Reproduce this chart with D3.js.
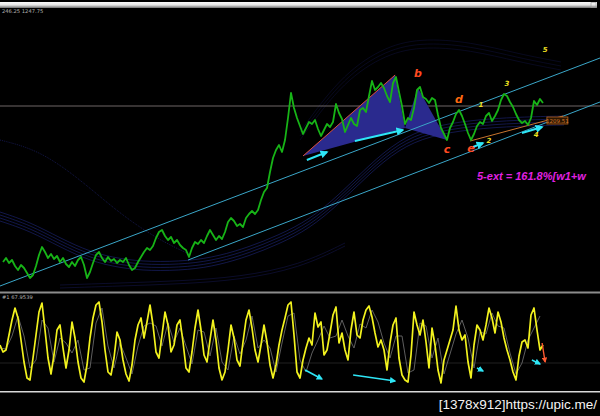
<!DOCTYPE html>
<html><head><meta charset="utf-8">
<script src="https://cdn.jsdelivr.net/npm/d3@7"></script>
<style>html,body{margin:0;padding:0;background:#000;overflow:hidden}svg{display:block}</style>
</head><body>
<script>
// ---------- DATA ----------
const headerText = "246.25 1247.75";
const oscHeaderText = "#1 67.9539";
const watermark = "[1378x912]https://upic.me/";
const extText = "5-ext = 161.8%[w1+w";
const priceTag = "1209.51";

// price closes, bar index starts at 1
const priceStart = 1;
const price = [
1134,1136,1133.5,1135,1132,1130,1132.5,1131,1128.5,1126,
1127.5,1132,1137.5,1141.5,1139,1136,1138,1135.5,1137,1134,
1136,1133,1131.5,1134,1132,1135,1136.5,1132.5,1126,1129,
1133.5,1137.5,1139,1136,1134,1136.5,1134.5,1135.5,1133.5,1135,
1134,1136,1132.5,1130,1131,1134,1136.5,1139,1141,1140,
1142,1146,1149,1150,1147,1145,1146.5,1143.5,1145,1142.5,
1141,1140,1136.5,1141,1144,1143,1145,1143.5,1147,1150,
1147.5,1145,1147,1145.5,1149,1154,1156,1154.5,1152,1153,
1151.5,1156,1158,1159.5,1158,1160,1165,1169,1171,1179,
1186,1190,1192.5,1189,1195,1206,1218.5,1211,1206,1202,
1198,1201,1204,1203,1205,1200.5,1197,1200,1203,1201.5,
1204,1213,1208.5,1205.5,1199,1202.5,1206,1203,1202,1210,
1211,1209,1217,1224.5,1220,1221.5,1223.5,1221,1217,1214,
1223.5,1226.5,1219,1212,1203,1206,1205,1211,1220,1221.5,
1216.5,1215.5,1213.5,1216,1215,1207.5,1201,1198,1195,1201,
1204,1208,1210,1207,1203,1198.5,1195,1198,1202,1204,
1203,1207,1208.5,1204.5,1207,1210,1215,1218,1217,1214,
1211.5,1208,1205,1203.5,1204.5,1202.5,1206,1214.5,1212.5,1215.5,
1213.5
];

// oscillator main line, bar index starts at 0
const osc = [
53,46,48,63,78,90,80,58,36,20,
18,40,63,86,95,68,40,24,43,68,
73,50,30,48,76,60,36,20,16,33,
60,80,93,96,76,48,26,23,40,66,
58,38,24,17,33,58,73,80,60,76,
93,73,46,40,63,86,73,46,53,73,
78,56,30,26,46,70,88,68,43,36,
58,78,58,30,18,26,48,73,60,38,
32,56,78,88,70,48,36,53,73,56,
33,20,33,53,68,80,
93,96,63,26,20,38,50,60,53,85,
71,76,43,48,65,83,91,55,65,48,
38,68,86,63,60,78,88,92,81,65,
51,58,48,28,55,73,80,40,23,18,
16,43,86,73,63,78,56,30,70,53,
28,15,38,48,58,68,92,68,58,63,
36,20,53,73,68,58,73,90,80,65,
86,76,60,48,38,26,18,42,56,58,
50,83,90,68,48,53
];
// oscillator signal line, one value every 2 bars from bar 0
const signalStep = 2;
const signal = [
50,49,62,82,62,30,38,78,70,36,
60,55,45,58,28,30,75,90,52,30,
55,40,24,52,72,75,72,52,75,56,
70,52,34,68,66,42,70,36,28,62,
44,58,82,50,58,50,26,55,82,85,
38,
26,45,58,72,60,62,78,62,50,74,
70,88,76,55,40,62,62,25,28,75,
72,40,60,24,44,64,78,60,30,66,
64,85,72,70,45,24,35,58,70,82
];

// envelope band centre (index, price) and its line offsets
const bandA = [[0,1159],[10,1154],[20,1146],[30,1139],[40,1135.5],[50,1134],[63,1134.5],[73,1137],[83,1141.5],[93,1147.5],[103,1155],[113,1167.5],[123,1182.5],[133,1195],[143,1201.5],[157,1205],[173,1206.5],[188,1207]];
const bandAOffsets = [0,1.5,3,4.5];
const bandTop = [[100,1195],[113,1222],[127,1237],[140,1242],[157,1240],[173,1234],[187,1230]];
const bandTopOffsets = [0,2,4];
const bandLow = [[20,1121],[40,1122],[60,1123],[80,1125],[100,1131],[115,1142]];
const bandFaint = [[0,1195],[13,1190],[27,1175],[40,1158],[53,1145],[63,1138]];

// drawn objects (index, price)
const hLevel = 1212;
const channelA = [[0,1122],[200,1236]];
const channelB = [[62.7,1135],[200,1214]];
const orangeLine = [[156.7,1194.5],[187.7,1207]];
const redLine = [[101,1187],[131.7,1227.5]];
const tri1 = [[101,1187],[131.7,1227.5],[135,1201]];
const tri2 = [[135,1201],[139.3,1221],[149,1195]];
const tagAt = [182.3,1206.5];
const priceArrows = [
  [[102.3,1185],[109,1189]],
  [[118.3,1194.5],[134.3,1200]],
  [[157.7,1191.5],[161,1193.5]],
  [[174,1198.5],[180.7,1201.5]]
];
const waveLetters = [
  {t:"b",i:139.3,p:1226.5},{t:"d",i:153,p:1213.5},{t:"c",i:149,p:1188.5},{t:"e",i:157,p:1189}
];
const waveNums = [
  {t:"1",i:160.3,p:1211.5},{t:"2",i:163,p:1193.5},{t:"3",i:169,p:1222},{t:"4",i:178.7,p:1196.5},{t:"5",i:181.7,p:1239}
];
const oscArrows = [
  [[101.7,28],[107.3,19]],
  [[117.7,23],[131.7,17]],
  [[159,30],[161,27]],
  [[177.3,38],[180,34]]
];
const oscRedArrow = [[180.7,55],[181.7,36]];
const oscLevel = 35;

// ---------- DRAW ----------
const W = 600, H = 416;
const svg = d3.select("body").append("svg").attr("width",W).attr("height",H)
  .style("background","#000").style("font-family","'DejaVu Sans', sans-serif");

const defs = svg.append("defs");
const g1 = defs.append("linearGradient").attr("id","bar").attr("x1",0).attr("x2",0).attr("y1",0).attr("y2",1);
g1.append("stop").attr("offset","0%").attr("stop-color","#fafafa");
g1.append("stop").attr("offset","50%").attr("stop-color","#e6e6e6");
g1.append("stop").attr("offset","100%").attr("stop-color","#6e6e6e");
defs.append("clipPath").attr("id","mainClip").append("rect").attr("x",0).attr("y",9).attr("width",W).attr("height",283);
defs.append("clipPath").attr("id","oscClip").append("rect").attr("x",0).attr("y",294).attr("width",W).attr("height",96);
function mk(id,col){
  defs.append("marker").attr("id",id).attr("viewBox","0 0 10 10").attr("refX",8).attr("refY",5)
    .attr("markerWidth",4).attr("markerHeight",4).attr("orient","auto")
    .append("path").attr("d","M0,0L10,5L0,10z").attr("fill",col);
}
mk("arrC","#2ee6f6"); mk("arrR","#ff5a30");

const x = d3.scaleLinear().domain([0,200]).range([0,600]);
const y = d3.scaleLinear().domain([1120,1260]).range([290,10]);
const yo = d3.scaleLinear().domain([0,100]).range([398,298]);

// top bar
svg.append("rect").attr("x",0).attr("y",2).attr("width",597).attr("height",6).attr("fill","url(#bar)");
svg.append("rect").attr("x",591).attr("y",2.5).attr("width",5).attr("height",5).attr("fill","none").attr("stroke","#999").attr("stroke-width",0.6);
svg.append("text").attr("x",2).attr("y",13).attr("font-size",5.2).attr("fill","#b0b0b0").text(headerText);

const main = svg.append("g").attr("clip-path","url(#mainClip)");
const lineP = d3.line().x(d=>x(d[0])).y(d=>y(d[1]));
const curveP = d3.line().x(d=>x(d[0])).y(d=>y(d[1])).curve(d3.curveBasis);

// faint bands
bandAOffsets.forEach(o=>{
  main.append("path").attr("d",curveP(bandA.map(d=>[d[0],d[1]-o])))
    .attr("fill","none").attr("stroke","#2a34a8").attr("stroke-width",0.8).attr("opacity",0.55);
});
bandTopOffsets.forEach(o=>{
  main.append("path").attr("d",curveP(bandTop.map(d=>[d[0],d[1]+o])))
    .attr("fill","none").attr("stroke","#1c2070").attr("stroke-width",0.7).attr("opacity",0.4);
});
[0,1.5].forEach(o=>{
  main.append("path").attr("d",curveP(bandLow.map(d=>[d[0],d[1]+o])))
    .attr("fill","none").attr("stroke","#1a1e66").attr("stroke-width",0.7).attr("opacity",0.6);
});
main.append("path").attr("d",curveP(bandFaint)).attr("fill","none").attr("stroke","#181c5a")
  .attr("stroke-width",0.8).attr("stroke-dasharray","1,1");

// horizontal level
main.append("line").attr("x1",0).attr("x2",W).attr("y1",y(hLevel)).attr("y2",y(hLevel))
  .attr("stroke","#8a8080").attr("stroke-width",0.8);

// triangles
[tri1,tri2].forEach(t=>{
  main.append("path").attr("d",lineP(t)+"Z").attr("fill","#2a2a8e").attr("stroke","none");
});

// channel lines
[channelA,channelB].forEach(c=>{
  main.append("path").attr("d",lineP(c)).attr("stroke","#3aa6c8").attr("stroke-width",1).attr("fill","none");
});
main.append("path").attr("d",lineP(orangeLine)).attr("stroke","#c8742e").attr("stroke-width",1).attr("fill","none");
main.append("path").attr("d",lineP(redLine)).attr("stroke","#e0503c").attr("stroke-width",1).attr("fill","none");

// price line
main.append("path").datum(price)
  .attr("d",d3.line().x((d,i)=>x(i+priceStart)).y(d=>y(d)))
  .attr("fill","none").attr("stroke","#17b417").attr("stroke-width",1.8).attr("stroke-linejoin","round");

// price tag
main.append("rect").attr("x",x(tagAt[0])).attr("y",y(tagAt[1])).attr("width",21).attr("height",7)
  .attr("fill","#2a1500").attr("stroke","#b8641e").attr("stroke-width",0.8);
main.append("text").attr("x",x(tagAt[0])+10.5).attr("y",y(tagAt[1])+5.6).attr("text-anchor","middle")
  .attr("font-size",5.5).attr("fill","#d07a30").text(priceTag);

// arrows
priceArrows.forEach(a=>{
  main.append("path").attr("d",lineP(a)).attr("stroke","#2ee6f6").attr("stroke-width",2)
    .attr("fill","none").attr("marker-end","url(#arrC)");
});

// labels
main.selectAll("text.wl").data(waveLetters).enter().append("text")
  .attr("x",d=>x(d.i)).attr("y",d=>y(d.p)).attr("text-anchor","middle")
  .attr("font-size",11).attr("font-style","italic").attr("font-weight","bold")
  .attr("fill",d=>d.t==="d"?"#ff6a10":"#ff4a20").text(d=>d.t);
main.selectAll("text.wn").data(waveNums).enter().append("text")
  .attr("x",d=>x(d.i)).attr("y",d=>y(d.p)).attr("text-anchor","middle")
  .attr("font-size",7).attr("font-style","italic").attr("font-weight","bold")
  .attr("fill","#f0e020").text(d=>d.t);
svg.append("text").attr("x",477).attr("y",180).attr("font-size",11).attr("font-style","italic")
  .attr("font-family","'Liberation Sans', sans-serif")
  .attr("font-weight","bold").attr("fill","#e020e0").text(extText);

// pane divider
svg.append("rect").attr("x",0).attr("y",291.5).attr("width",W).attr("height",2).attr("fill","#8c8c8c");
svg.append("text").attr("x",2).attr("y",299).attr("font-size",5.2).attr("fill","#b0b0b0").text(oscHeaderText);

// oscillator
const og = svg.append("g").attr("clip-path","url(#oscClip)");
og.append("line").attr("x1",0).attr("x2",W).attr("y1",yo(oscLevel)).attr("y2",yo(oscLevel))
  .attr("stroke","#2a2a2a").attr("stroke-width",0.8);
og.append("path").datum(signal)
  .attr("d",d3.line().x((d,i)=>x(i*signalStep)).y(d=>yo(d)))
  .attr("fill","none").attr("stroke","#5e5e5e").attr("stroke-width",1);
og.append("path").datum(osc)
  .attr("d",d3.line().x((d,i)=>x(i)).y(d=>yo(d)))
  .attr("fill","none").attr("stroke","#f2f21e").attr("stroke-width",1.7).attr("stroke-linejoin","round");
const lineO = d3.line().x(d=>x(d[0])).y(d=>yo(d[1]));
oscArrows.forEach(a=>{
  og.append("path").attr("d",lineO(a)).attr("stroke","#2ee6f6").attr("stroke-width",1.6)
    .attr("fill","none").attr("marker-end","url(#arrC)");
});
og.append("path").attr("d",lineO(oscRedArrow)).attr("stroke","#ff5a30").attr("stroke-width",1.4)
  .attr("fill","none").attr("marker-end","url(#arrR)");

// bottom line and watermark
svg.append("rect").attr("x",0).attr("y",391).attr("width",W).attr("height",1.5).attr("fill","#d8d8d8");
svg.append("text").attr("x",597).attr("y",409).attr("text-anchor","end").attr("font-size",13.5)
  .attr("font-family","'Liberation Sans', sans-serif").attr("fill","#f4f4f4").text(watermark);
</script>
</body></html>
